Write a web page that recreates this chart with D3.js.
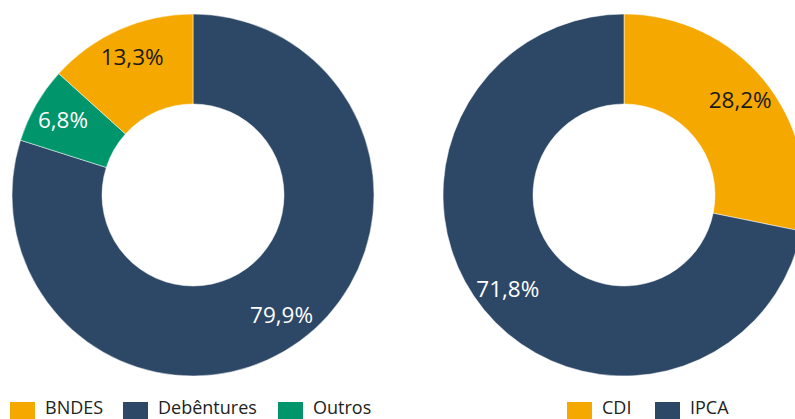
<!DOCTYPE html>
<html>
<head>
<meta charset="utf-8">
<script src="https://cdn.jsdelivr.net/npm/d3@7"></script>
<style>
  body { margin: 0; background: #fff; }
  svg { display: block; font-family: "Open Sans", "Noto Sans", sans-serif; }
</style>
</head>
<body>
<div id="chart"></div>
<script>
// left donut: funding source
const sourceCats = ["Debêntures", "Outros", "BNDES"];
const sourceVals = [79.9, 6.8, 13.3];
const sourceLegend = ["BNDES", "Debêntures", "Outros"];

// right donut: indexer
const indexCats = ["CDI", "IPCA"];
const indexVals = [28.2, 71.8];
const indexLegend = ["CDI", "IPCA"];

const colors = { "BNDES": "#f5a800", "Debêntures": "#2d4766", "Outros": "#00956a", "CDI": "#f5a800", "IPCA": "#2d4766" };
const labelColors = { "BNDES": "#1a1a1a", "CDI": "#1a1a1a" };

const width = 795, height = 419;
const outerR = 181, innerR = 91, labelR = 150;

const svg = d3.select("#chart").append("svg")
    .attr("width", width)
    .attr("height", height);

const pie = d3.pie().sort(null).value(d => d.value);
const arc = d3.arc().innerRadius(innerR).outerRadius(outerR);

function fmt(v) {
    return v.toFixed(1).replace(".", ",") + "%";
}

function donut(cx, cy, cats, vals) {
    const data = cats.map((c, i) => ({ cat: c, value: vals[i] }));
    const g = svg.append("g").attr("transform", `translate(${cx},${cy})`);
    const arcs = pie(data);

    g.selectAll("path")
        .data(arcs)
        .enter().append("path")
        .attr("d", arc)
        .attr("fill", d => colors[d.data.cat])
        .attr("stroke", "#fff")
        .attr("stroke-width", 0.5);

    g.selectAll("text")
        .data(arcs)
        .enter().append("text")
        .attr("x", d => labelR * Math.sin((d.startAngle + d.endAngle) / 2))
        .attr("y", d => -labelR * Math.cos((d.startAngle + d.endAngle) / 2))
        .attr("text-anchor", "middle")
        .attr("dy", "0.33em")
        .attr("font-size", 22.5)
        .attr("fill", d => labelColors[d.data.cat] || "#fff")
        .text(d => fmt(d.value));
}

function legend(items, xs) {
    const g = svg.append("g");
    items.forEach((item, i) => {
        g.append("rect")
            .attr("x", xs[i])
            .attr("y", 402)
            .attr("width", 25)
            .attr("height", 17)
            .attr("fill", colors[item]);
        g.append("text")
            .attr("x", xs[i] + 35)
            .attr("y", 414)
            .attr("font-size", 18)
            .attr("fill", "#222")
            .text(item);
    });
}

donut(193, 195, sourceCats, sourceVals);
donut(624, 195, indexCats, indexVals);

legend(sourceLegend, [10, 123, 278]);
legend(indexLegend, [567, 655]);
</script>
</body>
</html>
